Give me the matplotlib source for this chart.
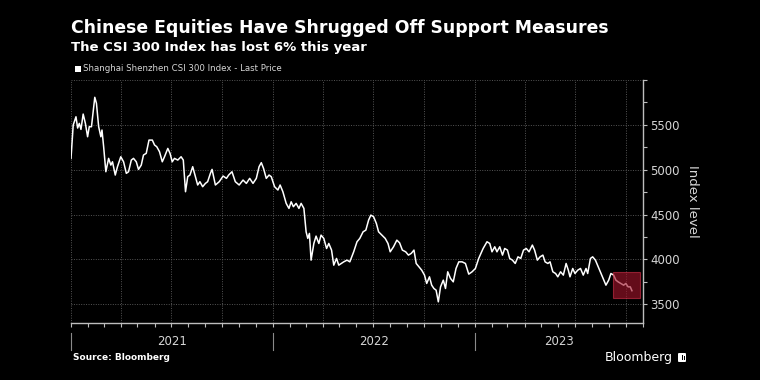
import matplotlib
matplotlib.use('Agg')
import matplotlib.pyplot as plt
import matplotlib.dates as mdates
import matplotlib.transforms as mtransforms
from matplotlib.patches import Rectangle, FancyBboxPatch
import pandas as pd

# ---------------- data ----------------
start_date = '2021-01-01'
days = [0, 4, 9, 12, 15, 18, 22, 26, 30, 33, 37, 43, 46, 50, 54, 56, 59, 63, 68, 72,
        75, 80, 84, 90, 95, 100, 104, 109, 113, 118, 122, 127, 131, 136, 141, 147, 151,
        155, 160, 165, 169, 175, 179, 183, 187, 193, 199, 203, 207, 211, 215, 220, 225,
        229, 233, 238, 243, 247, 252, 255,
        261, 268, 275, 281, 285, 291, 297, 304, 311, 317, 323, 329, 335, 340, 344, 348,
        353, 358, 362, 368, 374, 378, 383, 389, 394, 398, 402, 407, 412, 416, 421, 425,
        428, 431, 434, 439, 443, 448, 452, 457, 462, 466, 471, 475, 480, 484,
        493, 499, 504, 511, 517, 522, 528, 533, 538, 542, 547, 552, 556, 562, 568, 573,
        577, 583, 589, 594, 599, 605, 610, 615, 620, 624, 629, 634, 639, 643, 648, 652,
        656, 660, 664, 668, 673, 677, 681, 686, 691, 696, 701, 707, 713, 719, 725, 731, 737,
        745, 752, 757, 761, 766, 770, 775, 780, 784, 789, 793, 798, 803, 808, 813, 818,
        823, 828, 834, 838, 843, 848, 853, 857, 862, 866, 871, 876, 880, 885, 890, 895,
        899, 902, 907, 911, 916, 921, 926, 931, 934, 939, 943, 948, 953, 958, 963, 967,
        972, 976, 981, 985, 989, 994, 999, 1003, 1007, 1011, 1014]
values = [5126, 5498, 5590, 5464, 5516, 5449, 5620, 5516, 5367, 5479, 5479, 5807, 5740, 5479,
          5367, 5442, 5256, 4977, 5126, 5051, 5088, 4940, 5033, 5144, 5088, 4959, 4977, 5107,
          5126, 5088, 5003, 5051, 5163, 5182, 5330, 5330, 5275, 5256, 5200, 5088, 5144, 5237,
          5182, 5088, 5126, 5107, 5144, 5107, 4754, 4922, 4940, 5033, 4922, 4829, 4866, 4810,
          4847, 4866, 4959, 5003,
          4829, 4866, 4929, 4903, 4940, 4977, 4866, 4829, 4884, 4847, 4903, 4847, 4903, 5033,
          5078, 5015, 4903, 4940, 4922, 4810, 4773, 4829, 4754, 4624, 4568, 4642, 4587, 4624,
          4568, 4624, 4568, 4307, 4233, 4289, 3991, 4177, 4259, 4177, 4270, 4233, 4121, 4177,
          4103, 3935, 4010, 3935,
          3972, 3991, 3972, 4084, 4196, 4233, 4307, 4326, 4438, 4493, 4475, 4400, 4307, 4270,
          4233, 4177, 4084, 4140, 4214, 4184, 4103, 4084, 4047, 4066, 4103, 3954, 3917, 3879,
          3824, 3731, 3805, 3712, 3675, 3656, 3526, 3693, 3768, 3675, 3861, 3787, 3749, 3898,
          3972, 3972, 3954, 3835, 3861, 3898, 4010,
          4121, 4196, 4177, 4084, 4140, 4084, 4140, 4047, 4121, 4103, 4010, 3991, 3954, 4028,
          4010, 4103, 4121, 4084, 4159, 4103, 3991, 4028, 4047, 3972, 3954, 3972, 3861, 3842,
          3805, 3861, 3824, 3954, 3879, 3805, 3898, 3842, 3879, 3898, 3824, 3898, 3842, 4010,
          4028, 3991, 3917, 3842, 3768, 3712, 3768, 3842, 3824, 3768, 3749, 3731, 3712, 3731,
          3693, 3693, 3650]

y_ticks = [3500, 4000, 4500, 5000, 5500, 6000]
y_tick_labels = ['3500', '4000', '4500', '5000', '5500', '']
y_minor_ticks = [3750, 4250, 4750, 5250, 5750]
years = ['2021', '2022', '2023']
x_start = '2021-01-01'
x_end = '2023-11-01'
y_low, y_high = 3290, 6000
highlight_start, highlight_end = '2023-09-07', '2023-10-26'
highlight_low, highlight_high = 3570, 3857

title = 'Chinese Equities Have Shrugged Off Support Measures'
subtitle = 'The CSI 300 Index has lost 6% this year'
legend_label = 'Shanghai Shenzhen CSI 300 Index - Last Price'
source = 'Source: Bloomberg'
y_label = 'Index level'

# ---------------- figure ----------------
dates = pd.to_datetime(start_date) + pd.to_timedelta(days, unit='D')

W, H = 760, 380
fig = plt.figure(figsize=(W / 100, H / 100), dpi=100, facecolor='black')
ax_l, ax_r, ax_t, ax_b = 71, 643, 80, 323
ax = fig.add_axes([ax_l / W, 1 - ax_b / H, (ax_r - ax_l) / W, (ax_b - ax_t) / H])
ax.set_facecolor('black')

ax.plot(dates, values, color='white', lw=1.1, zorder=3, solid_joinstyle='round')

x0 = mdates.date2num(pd.Timestamp(highlight_start))
x1 = mdates.date2num(pd.Timestamp(highlight_end))
ax.add_patch(Rectangle((x0, highlight_low), x1 - x0, highlight_high - highlight_low,
                       facecolor='#a3142b', alpha=0.62, edgecolor='#d03048', lw=0.8, zorder=4))

ax.set_xlim(pd.Timestamp(x_start), pd.Timestamp(x_end))
ax.set_ylim(y_low, y_high)

# spines
for s in ['top', 'left']:
    ax.spines[s].set_visible(False)
for s in ['right', 'bottom']:
    ax.spines[s].set_color('#bdbdbd')
    ax.spines[s].set_linewidth(1.0)

# y axis on right
ax.yaxis.tick_right()
ax.set_yticks(y_ticks)
ax.set_yticklabels(y_tick_labels)
ax.set_yticks(y_minor_ticks, minor=True)
ax.tick_params(axis='y', which='both', colors='#bdbdbd', labelcolor='#d6d6d6',
               labelsize=8.5, length=3, width=0.8, pad=2, direction='out')
ax.set_ylabel(y_label, color='#d6d6d6', fontsize=9.5, rotation=270, labelpad=14)
ax.yaxis.set_label_position('right')

# x axis
ax.xaxis.set_major_locator(mdates.MonthLocator(bymonth=[1, 4, 7, 10]))
ax.xaxis.set_minor_locator(mdates.MonthLocator())
ax.xaxis.set_major_formatter(plt.NullFormatter())
ax.tick_params(axis='x', which='both', colors='#bdbdbd', length=3, width=0.8, direction='out')

ax.grid(True, which='major', color='#555555', linestyle=(0, (1, 1.5)), lw=0.7, zorder=0)

# year labels and separators
trans = mtransforms.blended_transform_factory(ax.transData, ax.transAxes)
xmax_num = mdates.date2num(pd.Timestamp(x_end))
for yr in years:
    ys = mdates.date2num(pd.Timestamp(f'{yr}-01-01'))
    ye = min(mdates.date2num(pd.Timestamp(f'{int(yr) + 1}-01-01')), xmax_num)
    ax.plot([ys, ys], [-0.041, -0.111], transform=trans, color='#8a8a8a', lw=0.8,
            clip_on=False)
    ax.text((ys + ye) / 2, -0.075, yr, transform=trans, ha='center', va='center',
            color='#d6d6d6', fontsize=8.5)

# texts
fig.text(71 / W, 1 - 28 / H, title, color='white', fontsize=12.4, fontweight='bold',
         va='center', ha='left')
fig.text(71 / W, 1 - 47 / H, subtitle, color='white', fontsize=9.5, fontweight='bold',
         va='center', ha='left')
fig.patches.append(Rectangle((75 / W, 1 - 72 / H), 6 / W, 6 / H, transform=fig.transFigure,
                             facecolor='white', edgecolor='none'))
fig.text(83 / W, 1 - 68.5 / H, legend_label, color='#d6d6d6', fontsize=6.2, va='center',
         ha='left')
fig.text(73 / W, 1 - 357 / H, source, color='white', fontsize=6.5, fontweight='bold',
         va='center', ha='left')
fig.text(673 / W, 1 - 357 / H, 'Bloomberg', color='white', fontsize=9, va='center', ha='right')
# small logo mark next to the wordmark
fig.patches.append(FancyBboxPatch((678 / W, 1 - 362 / H), 8 / W, 9 / H,
                                  boxstyle='round,pad=0,rounding_size=0.002',
                                  transform=fig.transFigure, facecolor='white',
                                  edgecolor='none'))
for bx, bh in [(680.5, 3), (682.3, 5), (684.1, 4)]:
    fig.patches.append(Rectangle((bx / W, 1 - 360 / H), 0.9 / W, bh / H,
                                 transform=fig.transFigure, facecolor='black',
                                 edgecolor='none'))

fig.savefig('out.png', dpi=100, facecolor='black')
